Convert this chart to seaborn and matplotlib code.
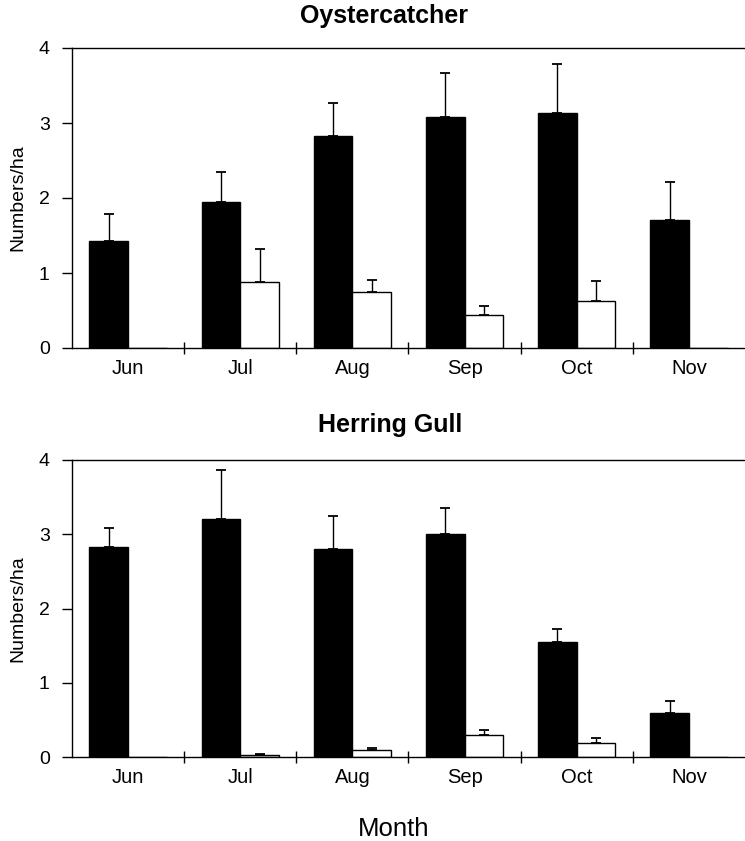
import matplotlib
matplotlib.use("Agg")
import numpy as np
import pandas as pd
import seaborn as sns
import matplotlib.pyplot as plt

months = ["Jun", "Jul", "Aug", "Sep", "Oct", "Nov"]
series = ["filled", "open"]

oyster_filled = [1.42, 1.95, 2.83, 3.08, 3.13, 1.71]
oyster_filled_err = [0.37, 0.40, 0.43, 0.59, 0.66, 0.50]
oyster_open = [0.0, 0.88, 0.74, 0.44, 0.62, 0.0]
oyster_open_err = [0.0, 0.44, 0.16, 0.12, 0.27, 0.0]

gull_filled = [2.83, 3.21, 2.80, 3.01, 1.55, 0.59]
gull_filled_err = [0.26, 0.65, 0.45, 0.34, 0.18, 0.16]
gull_open = [0.0, 0.03, 0.094, 0.29, 0.19, 0.0]
gull_open_err = [0.0, 0.015, 0.026, 0.08, 0.07, 0.0]

yticks = [0, 1, 2, 3, 4]

sns.set_style("white")
plt.rcParams["font.family"] = ["Liberation Sans", "DejaVu Sans"]
plt.rcParams["text.color"] = "black"
plt.rcParams["axes.labelcolor"] = "black"
plt.rcParams["xtick.color"] = "black"
plt.rcParams["ytick.color"] = "black"

W, H = 745, 841
fig = plt.figure(figsize=(W / 100, H / 100), dpi=100)


def panel(rect, filled, filled_err, opened, opened_err):
    ax = fig.add_axes(rect)
    df = pd.DataFrame({
        "month": months * 2,
        "series": [series[0]] * 6 + [series[1]] * 6,
        "value": list(filled) + list(opened),
    })
    sns.barplot(data=df, x="month", y="value", hue="series", order=months,
                hue_order=series, palette={"filled": "black", "open": "white"},
                edgecolor="black", linewidth=1.0, width=0.69, errorbar=None,
                legend=False, ax=ax)
    errs = {series[0]: filled_err, series[1]: opened_err}
    for cont, name in zip(ax.containers, series):
        for p in cont.patches:
            xc = p.get_x() + p.get_width() / 2
            i = int(round(xc))
            e = errs[name][i]
            if e <= 0:
                continue
            ax.errorbar([xc], [p.get_height()], yerr=[[0], [e]], fmt="none",
                        ecolor="black", elinewidth=1.0, capsize=3.6,
                        capthick=1.3, zorder=1)
    ax.set_xlim(-0.5, 5.5)
    ax.set_ylim(0, 4)
    ax.set_yticks(yticks)
    ax.set_yticklabels([str(t) for t in yticks], fontsize=14)
    ax.set_xticks(np.arange(len(months)))
    ax.set_xticklabels(months, fontsize=14.5)
    ax.set_xticks(np.arange(len(months) - 1) + 0.5, minor=True)
    ax.tick_params(axis="x", which="major", bottom=True, length=0, pad=8)
    ax.tick_params(axis="x", which="minor", bottom=True, direction="inout",
                   length=8, width=1.0, color="black")
    ax.tick_params(axis="y", which="major", left=True, direction="out",
                   length=7, width=1.0, color="black", pad=9)
    ax.set_xlabel("")
    ax.set_ylabel("Numbers/ha", fontsize=14)
    for s in ["left", "bottom", "top"]:
        ax.spines[s].set_visible(True)
        ax.spines[s].set_color("black")
        ax.spines[s].set_linewidth(1.0)
    ax.spines["right"].set_visible(False)
    return ax


left = 72 / W
width = 1.0 - left
ax1 = panel([left, 1 - 348 / H, width, 300 / H],
            oyster_filled, oyster_filled_err, oyster_open, oyster_open_err)
ax2 = panel([left, 1 - 757 / H, width, 297 / H],
            gull_filled, gull_filled_err, gull_open, gull_open_err)
for ax in (ax1, ax2):
    ax.yaxis.set_label_coords(-46 / (W - 72), 0.5)

fig.text(384 / W, 1 - 23 / H, "Oystercatcher", ha="center", va="baseline",
         fontsize=18, fontweight="bold")
fig.text(390 / W, 1 - 432 / H, "Herring Gull", ha="center", va="baseline",
         fontsize=18, fontweight="bold")
fig.text(394 / W, 1 - 836 / H, "Month", ha="center", va="baseline", fontsize=18.5)

fig.savefig("out.png", dpi=100)
